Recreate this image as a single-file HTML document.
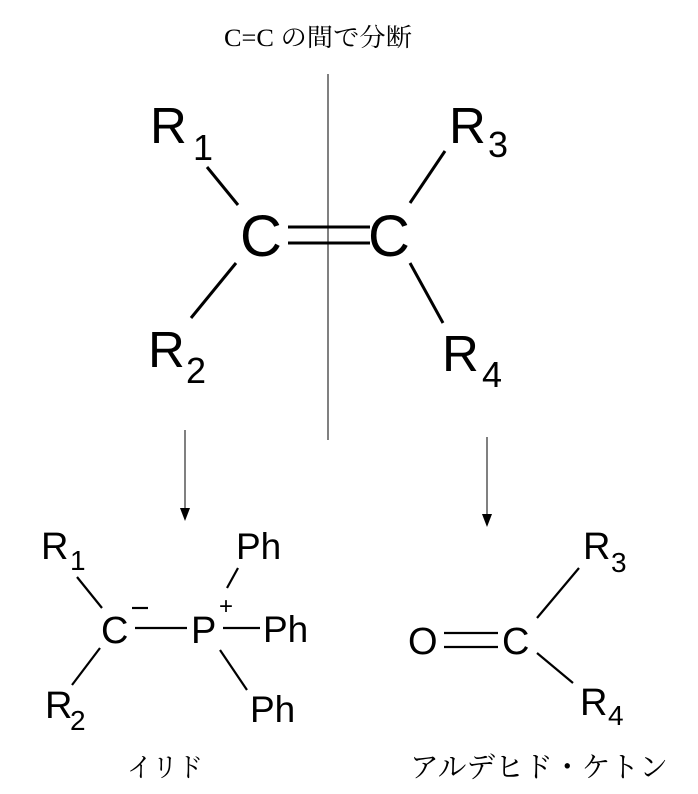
<!DOCTYPE html>
<html><head><meta charset="utf-8"><style>
html,body{margin:0;padding:0;background:#fff}
svg{display:block}
.s{font-family:"Liberation Sans",sans-serif;fill:#000}
.j{font-family:"Liberation Serif","Noto Serif CJK SC",serif;fill:#000}
</style></head><body>
<svg width="698" height="794" viewBox="0 0 698 794" xmlns="http://www.w3.org/2000/svg">
<text class="j" x="224" y="46" font-size="25" textLength="188" lengthAdjust="spacingAndGlyphs">C=C の間で分断</text>
<line x1="328" y1="74" x2="328" y2="440" stroke="#000" stroke-width="1"/>
<g stroke="#000" stroke-width="3" fill="none">
<line x1="207" y1="167" x2="238" y2="205"/>
<line x1="445" y1="151" x2="410" y2="203"/>
<line x1="236" y1="263" x2="191" y2="318"/>
<line x1="410" y1="263" x2="443" y2="323"/>
<line x1="288" y1="227" x2="370" y2="227"/>
<line x1="288" y1="243" x2="370" y2="243"/>
</g>
<g class="s">
<text x="150" y="143" font-size="51">R</text><text x="193" y="160" font-size="36">1</text>
<text x="449" y="143" font-size="51">R</text><text x="488" y="157" font-size="36">3</text>
<text x="240" y="256" font-size="58">C</text>
<text x="368" y="256" font-size="58">C</text>
<text x="148" y="367" font-size="51">R</text><text x="186" y="383" font-size="36">2</text>
<text x="442" y="371" font-size="51">R</text><text x="482" y="387" font-size="36">4</text>
</g>
<g stroke="#000" stroke-width="1">
<line x1="185" y1="430" x2="185" y2="512"/>
<line x1="487" y1="437" x2="487" y2="518"/>
</g>
<polygon points="180,508 190,508 185,521" fill="#000"/>
<polygon points="482,514 492,514 487,527" fill="#000"/>
<g stroke="#000" stroke-width="2.2" fill="none">
<line x1="77" y1="577" x2="102" y2="608"/>
<line x1="100" y1="648" x2="72" y2="685"/>
<line x1="135" y1="628" x2="187" y2="628"/>
<line x1="223" y1="628" x2="260" y2="628"/>
<line x1="238" y1="568" x2="227" y2="588"/>
<line x1="220" y1="650" x2="247" y2="690"/>
<line x1="444" y1="633" x2="498" y2="633"/>
<line x1="444" y1="647" x2="498" y2="647"/>
<line x1="537" y1="618" x2="579" y2="568"/>
<line x1="537" y1="653" x2="573" y2="683"/>
<line x1="132" y1="608" x2="148" y2="608"/>
</g>
<g class="s">
<text x="41" y="559" font-size="38">R</text><text x="70" y="570" font-size="28">1</text>
<text x="101" y="643" font-size="38">C</text>
<text x="191" y="643" font-size="38">P</text>
<text x="219" y="614" font-size="24">+</text>
<text x="263" y="642" font-size="37">Ph</text>
<text x="236" y="559" font-size="37">Ph</text>
<text x="250" y="722" font-size="37">Ph</text>
<text x="45" y="718" font-size="38">R</text><text x="70" y="730" font-size="28">2</text>
<text x="408" y="654" font-size="38">O</text>
<text x="502" y="654" font-size="38">C</text>
<text x="583" y="559" font-size="38">R</text><text x="611" y="572" font-size="28">3</text>
<text x="580" y="715" font-size="38">R</text><text x="608" y="725" font-size="28">4</text>
</g>
<text class="j" x="127" y="777" font-size="27" textLength="76" lengthAdjust="spacingAndGlyphs">イリド</text>
<text class="j" x="410" y="777" font-size="29" textLength="258" lengthAdjust="spacingAndGlyphs">アルデヒド・ケトン</text>
</svg>
</body></html>
